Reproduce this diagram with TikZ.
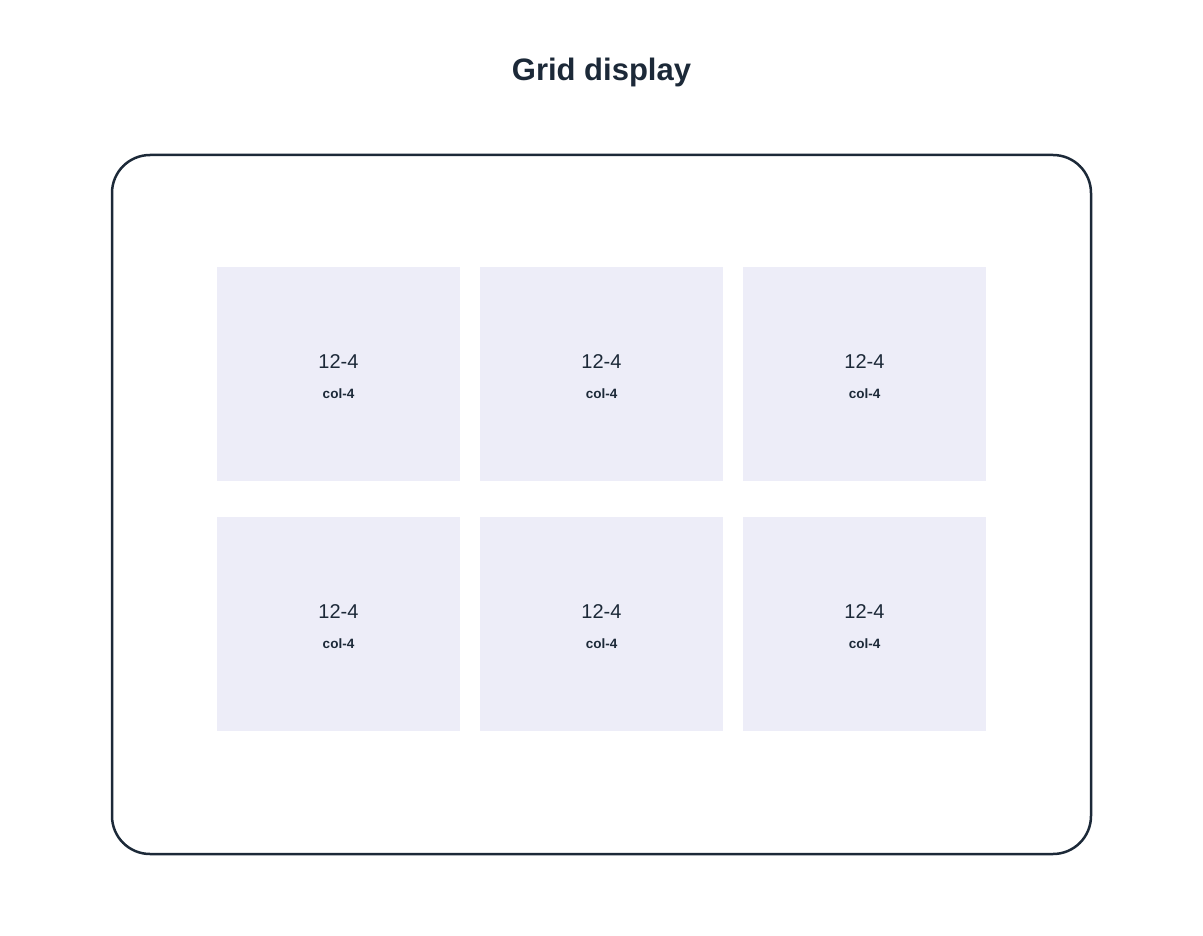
\documentclass[tikz,border=0pt]{standalone}
\usepackage{fontspec}
\setmainfont{Liberation Sans}
\definecolor{ink}{HTML}{1C2938}
\definecolor{cellfill}{HTML}{EDEDF8}
\begin{document}
\begin{tikzpicture}[x=1pt,y=-1pt,
  frame/.style={draw=ink,line width=2.5pt,rounded corners=38pt},
  cell/.style={fill=cellfill,draw=none,minimum width=243pt,minimum height=214pt,inner sep=0pt},
  bigtxt/.style={text=ink,font=\fontsize{20}{24}\selectfont,inner sep=0pt},
  smalltxt/.style={text=ink,font=\bfseries\fontsize{13.5}{16}\selectfont,inner sep=0pt},
  titletxt/.style={text=ink,font=\bfseries\fontsize{31}{36}\selectfont,inner sep=0pt}]
\useasboundingbox (0,0) rectangle (1203,936);
\node[titletxt] (title) at (601.5,72) {Grid display};
\draw[frame] (112,155) rectangle (1091,854);
\foreach \c/\x in {1/338.5,2/601.5,3/864.5}{
  \foreach \r/\y in {1/374,2/624}{
    \node[cell] (cell\r\c) at (\x,\y) {};
    \node[bigtxt,anchor=base] (lab\r\c) at ([yshift=6pt]cell\r\c.center) {12-4};
    \node[smalltxt,anchor=base] (sub\r\c) at ([yshift=-24.5pt]cell\r\c.center) {col-4};
  }
}
\end{tikzpicture}
\end{document}
